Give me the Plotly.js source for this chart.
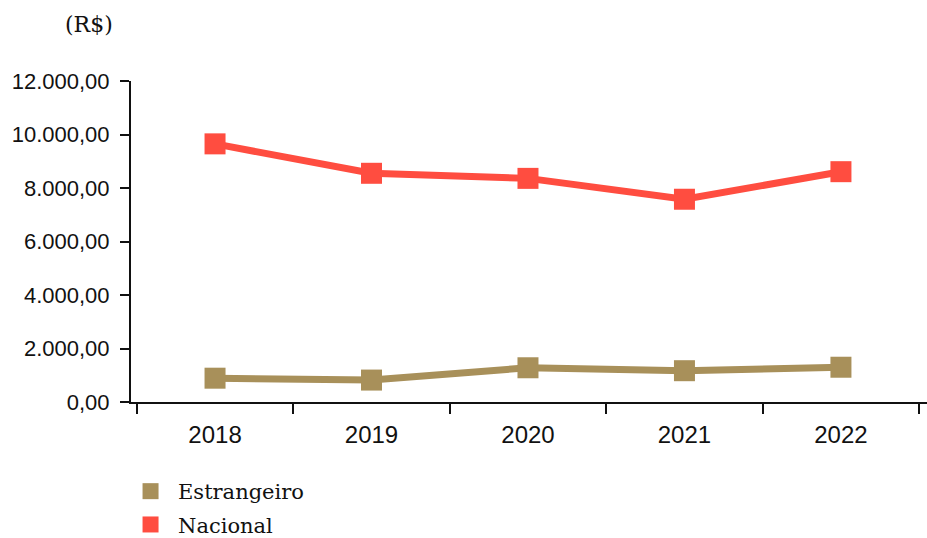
<!DOCTYPE html>
<html>
<head>
<meta charset="utf-8">
<script src="https://cdn.plot.ly/plotly-3.0.1.min.js"></script>
<style>
html,body{margin:0;padding:0;background:#fff;}
#chart{width:927px;height:538px;}
</style>
</head>
<body>
<div id="chart"></div>
<script>
var years = ['2018', '2019', '2020', '2021', '2022'];
var estrangeiro = [890, 820, 1280, 1170, 1300];
var nacional = [9650, 8550, 8360, 7580, 8610];
var seriesNames = ['Estrangeiro', 'Nacional'];
var yTicks = [0, 2000, 4000, 6000, 8000, 10000, 12000];

var colEst = '#A8905A';
var colNac = '#FF4D40';

var traces = [
  {x: years, y: estrangeiro, name: seriesNames[0], mode: 'lines+markers', showlegend: false,
   line: {color: colEst, width: 7}, marker: {symbol: 'square', size: 21, color: colEst}},
  {x: years, y: nacional, name: seriesNames[1], mode: 'lines+markers', showlegend: false,
   line: {color: colNac, width: 7}, marker: {symbol: 'square', size: 21, color: colNac}},
  {x: [years[0]], y: [null], name: seriesNames[0], legendgroup: 'a', mode: 'markers', showlegend: true,
   marker: {symbol: 'square', size: 16, color: colEst}},
  {x: [years[0]], y: [null], name: seriesNames[1], legendgroup: 'b', mode: 'markers', showlegend: true,
   marker: {symbol: 'square', size: 16, color: colNac}}
];

var layout = {
  width: 927, height: 538,
  margin: {l: 131, r: 0, t: 81, b: 136, autoexpand: false},
  paper_bgcolor: '#fff', plot_bgcolor: '#fff',
  separators: ',.',
  showlegend: true,
  legend: {x: -0.01, xanchor: 'left', y: -0.215, yanchor: 'top', orientation: 'v',
           traceorder: 'grouped', tracegroupgap: 3, itemwidth: 45,
           font: {family: 'DejaVu Serif', size: 21, color: '#111'}, bgcolor: 'rgba(0,0,0,0)'},
  xaxis: {type: 'category', range: [-0.537, 4.55], tickson: 'boundaries',
          ticks: 'outside', ticklen: 10, tickwidth: 2, tickcolor: '#111',
          showline: true, linecolor: '#111', linewidth: 2, showgrid: false, zeroline: false,
          tickfont: {family: 'Liberation Sans', size: 24, color: '#111'}, ticklabelstandoff: 10},
  yaxis: {range: [0, 12000], tickvals: yTicks, tickformat: ',.2f',
          ticks: 'outside', ticklen: 9, tickwidth: 2, tickcolor: '#111',
          showline: true, linecolor: '#111', linewidth: 2, showgrid: false, zeroline: false,
          tickfont: {family: 'Liberation Sans', size: 22, color: '#111'}, ticklabelstandoff: 6},
  annotations: [{text: '(R$)', xref: 'paper', yref: 'paper', x: -0.02, y: 1.175,
                 xanchor: 'right', yanchor: 'middle', showarrow: false,
                 font: {family: 'DejaVu Serif', size: 22, color: '#111'}}]
};

Plotly.newPlot('chart', traces, layout, {displayModeBar: false, staticPlot: true});
</script>
</body>
</html>
